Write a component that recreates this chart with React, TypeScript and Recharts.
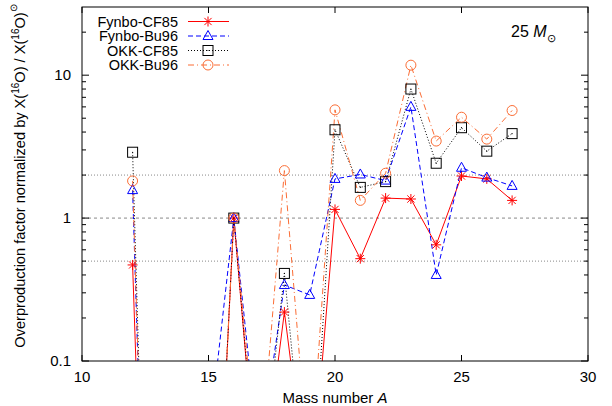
import React from 'react';
import { LineChart, Line, XAxis, YAxis, ReferenceLine } from 'recharts';

// mass numbers on the x axis
const massNumber = [12, 13, 14, 15, 16, 17, 18, 19, 20, 21, 22, 23, 24, 25, 26, 27];

// overproduction factors (values far below 0.1 fall off the plot, as in the original)
const fynboCF85 = [0.47, 3e-6, 3e-6, 2.7e-4, 1.0, 0.009, 0.22, 0.009, 1.15, 0.52, 1.38, 1.36, 0.65, 1.97, 1.88, 1.33];
const fynboBu96 = [1.57, 3e-6, 3e-6, 0.027, 1.0, 0.021, 0.34, 0.29, 1.88, 2.02, 1.83, 6.0, 0.4, 2.25, 1.92, 1.68];
const okkCF85 = [2.89, 3e-6, 3e-6, 3e-4, 1.0, 0.01, 0.41, 0.006, 4.15, 1.64, 1.8, 8.0, 2.42, 4.29, 2.94, 3.9];
const okkBu96 = [1.82, 3e-6, 3e-6, 3e-4, 1.0, 0.015, 2.15, 0.014, 5.72, 1.33, 2.06, 11.75, 3.46, 5.08, 3.57, 5.66];

const xTicks = [10, 15, 20, 25, 30];
const yTicks = [0.1, 0.2, 0.3, 0.4, 0.5, 0.6, 0.7, 0.8, 0.9, 1, 2, 3, 4, 5, 6, 7, 8, 9, 10, 20];
const yMajor = [0.1, 1, 10];
const yLabels: Record<number, string> = { 0.1: '0.1', 1: '1', 10: '10' };
const refDotted = [2, 0.5];
const refDashed = [1];

const chartData = massNumber.map((A, i) => ({
  A,
  fynboCF85: fynboCF85[i],
  fynboBu96: fynboBu96[i],
  okkCF85: okkCF85[i],
  okkBu96: okkBu96[i],
}));

type Shape = 'star' | 'triangle' | 'square' | 'circle';

const series: { key: string; name: string; color: string; dash?: string; shape: Shape }[] = [
  { key: 'fynboCF85', name: 'Fynbo-CF85', color: '#ff0000', shape: 'star' },
  { key: 'fynboBu96', name: 'Fynbo-Bu96', color: '#0000ff', dash: '5 3', shape: 'triangle' },
  { key: 'okkCF85', name: 'OKK-CF85', color: '#000000', dash: '1 2', shape: 'square' },
  { key: 'okkBu96', name: 'OKK-Bu96', color: '#fb6d35', dash: '6 3 1 3', shape: 'circle' },
];

const FONT = '"Liberation Sans", Arial, Helvetica, sans-serif';
const W = 612;
const H = 406;
const PLOT = { left: 82, right: 588, top: 7, bottom: 361 };

function Marker({ shape, cx, cy, color }: { shape: Shape; cx: number; cy: number; color: string }) {
  switch (shape) {
    case 'star': {
      const r = 5;
      const d = 3.6;
      return (
        <g stroke={color} strokeWidth={1}>
          <line x1={cx - r} y1={cy} x2={cx + r} y2={cy} />
          <line x1={cx} y1={cy - r} x2={cx} y2={cy + r} />
          <line x1={cx - d} y1={cy - d} x2={cx + d} y2={cy + d} />
          <line x1={cx - d} y1={cy + d} x2={cx + d} y2={cy - d} />
        </g>
      );
    }
    case 'triangle':
      return (
        <polygon
          points={`${cx},${cy - 5.5} ${cx - 5},${cy + 3.5} ${cx + 5},${cy + 3.5}`}
          fill="none"
          stroke={color}
          strokeWidth={1}
        />
      );
    case 'square':
      return (
        <g>
          <rect x={cx - 5} y={cy - 5} width={10} height={10} fill="none" stroke={color} strokeWidth={1} />
          <circle cx={cx} cy={cy} r={0.6} fill={color} />
        </g>
      );
    default:
      return <circle cx={cx} cy={cy} r={5} fill="none" stroke={color} strokeWidth={1} />;
  }
}

function makeDot(shape: Shape, color: string, key: string) {
  return (props: any) => {
    const { cx, cy, payload, index } = props;
    const v = payload ? payload[key] : undefined;
    if (v == null || v < 0.1 || cx == null || cy == null) return <g key={`e-${key}-${index}`} />;
    return (
      <g key={`d-${key}-${index}`}>
        <Marker shape={shape} cx={cx} cy={cy} color={color} />
      </g>
    );
  };
}

function XTick(props: any) {
  const { x, payload } = props;
  return (
    <g>
      <line x1={x} y1={PLOT.bottom} x2={x} y2={PLOT.bottom - 6} stroke="#000" />
      <line x1={x} y1={PLOT.top} x2={x} y2={PLOT.top + 6} stroke="#000" />
      <text x={x} y={382} textAnchor="middle" fontSize={15} fontFamily={FONT} fill="#000">
        {payload.value}
      </text>
    </g>
  );
}

function YTick(props: any) {
  const { y, payload } = props;
  const major = yMajor.includes(payload.value);
  const len = major ? 7 : 4;
  return (
    <g>
      <line x1={PLOT.left} y1={y} x2={PLOT.left + len} y2={y} stroke="#000" />
      <line x1={PLOT.right} y1={y} x2={PLOT.right - len} y2={y} stroke="#000" />
      {major && (
        <text x={71} y={y + 5} textAnchor="end" fontSize={15} fontFamily={FONT} fill="#000">
          {yLabels[payload.value]}
        </text>
      )}
    </g>
  );
}

function Overlay() {
  const rowY = [21.5, 36, 50.5, 65];
  return (
    <svg width={W} height={H} style={{ position: 'absolute', left: 0, top: 0, pointerEvents: 'none' }}>
      <rect
        x={PLOT.left}
        y={PLOT.top}
        width={PLOT.right - PLOT.left}
        height={PLOT.bottom - PLOT.top}
        fill="none"
        stroke="#000"
        strokeWidth={1}
      />
      {series.map((s, i) => (
        <g key={s.key}>
          <text x={178} y={rowY[i] + 5} textAnchor="end" fontSize={14.5} fontFamily={FONT} fill="#000">
            {s.name}
          </text>
          <line x1={188} y1={rowY[i]} x2={229} y2={rowY[i]} stroke={s.color} strokeDasharray={s.dash} />
          <Marker shape={s.shape} cx={208} cy={rowY[i]} color={s.color} />
        </g>
      ))}
      <text x={511} y={37} fontSize={16} fontFamily={FONT} fill="#000">
        25 <tspan fontStyle="italic">M</tspan>
        <tspan dy={5} fontSize={11}>⊙</tspan>
      </text>
      <text x={335} y={403} textAnchor="middle" fontSize={15} fontFamily={FONT} fill="#000">
        Mass number <tspan fontStyle="italic">A</tspan>
      </text>
      <text transform="translate(25,176) rotate(-90)" textAnchor="middle" fontSize={14.6} fontFamily={FONT} fill="#000">
        Overproduction factor normalized by X(<tspan dy={-6} fontSize={10}>16</tspan>
        <tspan dy={6}>O) / X(</tspan>
        <tspan dy={-6} fontSize={10}>16</tspan>
        <tspan dy={6}>O)</tspan>
        <tspan dy={-8} fontSize={10}>⊙</tspan>
      </text>
    </svg>
  );
}

export default function App() {
  return (
    <div style={{ position: 'absolute', left: 0, top: 0, width: W, height: H, background: '#fff' }}>
      <LineChart
        width={W}
        height={H}
        data={chartData}
        margin={{ top: PLOT.top, right: W - PLOT.right, bottom: 0, left: 0 }}
      >
        <XAxis
          dataKey="A"
          type="number"
          domain={[10, 30]}
          ticks={xTicks}
          height={H - PLOT.bottom}
          axisLine={false}
          tickLine={false}
          tick={<XTick />}
          interval={0}
          allowDataOverflow
        />
        <YAxis
          scale="log"
          domain={[0.1, 30]}
          ticks={yTicks}
          width={PLOT.left}
          axisLine={false}
          tickLine={false}
          tick={<YTick />}
          interval={0}
          allowDataOverflow
        />
        {refDotted.map((v) => (
          <ReferenceLine key={`dot-${v}`} y={v} stroke="#888" strokeDasharray="1 2" />
        ))}
        {refDashed.map((v) => (
          <ReferenceLine key={`dash-${v}`} y={v} stroke="#888" strokeDasharray="3 3" />
        ))}
        {series.map((s) => (
          <Line
            key={s.key}
            dataKey={s.key}
            name={s.name}
            stroke={s.color}
            strokeWidth={1}
            strokeDasharray={s.dash}
            dot={makeDot(s.shape, s.color, s.key)}
            activeDot={false}
            isAnimationActive={false}
          />
        ))}
      </LineChart>
      <Overlay />
    </div>
  );
}
